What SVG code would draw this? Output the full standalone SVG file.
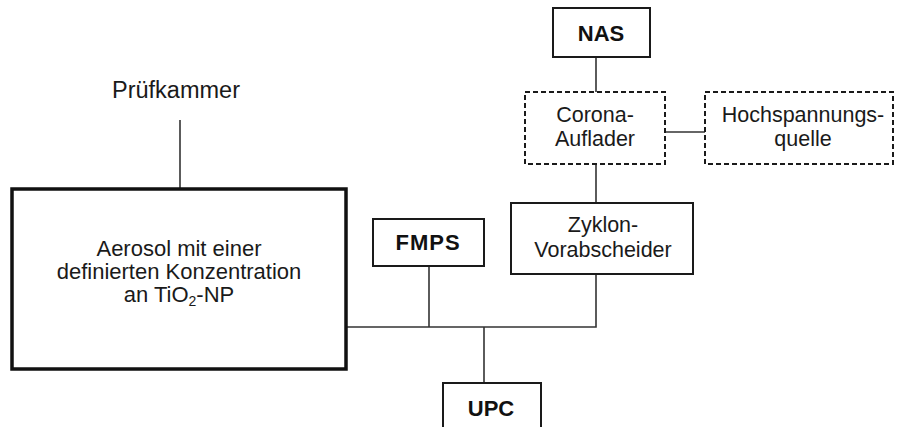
<svg xmlns="http://www.w3.org/2000/svg" width="904" height="427" viewBox="0 0 904 427">
<style>
.box{fill:#fff;stroke:#1a1a1a;stroke-width:2}
.dash{fill:#fff;stroke:#1a1a1a;stroke-width:2;stroke-dasharray:5,3}
.main{fill:#fff;stroke:#111;stroke-width:3.5}
.t{font-family:"Liberation Sans",Arial,sans-serif;font-size:21.5px;fill:#1a1a1a;text-anchor:middle}
.b{font-family:"Liberation Sans",Arial,sans-serif;font-size:22px;font-weight:bold;fill:#111;text-anchor:middle}
.c{fill:none;stroke:#333;stroke-width:1.6}
</style>
<g id="connectors">
<line class="c" x1="180" y1="120" x2="180" y2="189"/>
<line class="c" x1="596" y1="57" x2="596" y2="92"/>
<line class="c" x1="596" y1="164" x2="596" y2="203"/>
<polyline class="c" points="665,132 705,132"/>
<polyline class="c" points="346,327 596,327 596,274"/>
<line class="c" x1="429" y1="266" x2="429" y2="327"/>
<line class="c" x1="484" y1="327" x2="484" y2="383"/>
</g>
<g id="pruefkammer">
<text class="t" x="176" y="98" style="font-size:23.5px">Prüfkammer</text>
</g>
<g id="aerosol">
<rect class="main" x="12" y="189" width="334" height="180"/>
<text class="t" x="179" y="256" style="font-size:22px">Aerosol mit einer</text>
<text class="t" x="179" y="279" style="font-size:22px">definierten Konzentration</text>
<text class="t" x="179" y="302" style="font-size:22px">an TiO<tspan font-size="14" dy="4">2</tspan><tspan dy="-4">-NP</tspan></text>
</g>
<g id="nas">
<rect class="box" x="553" y="8" width="97" height="49"/>
<text class="b" x="601" y="41">NAS</text>
</g>
<g id="corona">
<rect class="dash" x="525" y="92" width="140" height="72"/>
<text class="t" x="595" y="122">Corona-</text>
<text class="t" x="595" y="146">Auflader</text>
</g>
<g id="hochspannung">
<rect class="dash" x="705" y="92" width="188" height="72"/>
<text class="t" x="803" y="122">Hochspannungs-</text>
<text class="t" x="803" y="146">quelle</text>
</g>
<g id="zyklon">
<rect class="box" x="511" y="203" width="182" height="71"/>
<text class="t" x="603" y="232">Zyklon-</text>
<text class="t" x="603" y="257">Vorabscheider</text>
</g>
<g id="fmps">
<rect class="box" x="373" y="219" width="111" height="47"/>
<text class="b" x="428" y="250" letter-spacing="1">FMPS</text>
</g>
<g id="upc">
<rect class="box" x="443" y="383" width="98" height="60"/>
<text class="b" x="491" y="416">UPC</text>
</g>
</svg>
